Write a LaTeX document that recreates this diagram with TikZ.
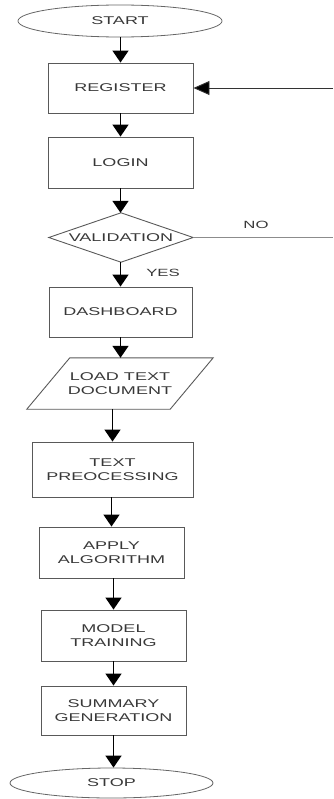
\documentclass[tikz,border=0pt]{standalone}
\usepackage{fontspec}
\setmainfont{Liberation Sans}
\newfontfamily\fcfont[FakeStretch=1.6]{Liberation Sans}
\usetikzlibrary{shapes.geometric,arrows.meta,calc}
\begin{document}
\begin{tikzpicture}[x=1bp,y=-1bp,
  every node/.style={font=\fcfont\fontsize{11.3}{13.5}\selectfont, text=black!78, align=center},
  boxnode/.style={draw=black!65, line width=0.9bp, rectangle, minimum width=145bp, minimum height=50bp, inner sep=0pt},
  termnode/.style={draw=black!60, line width=0.8bp, ellipse, minimum width=204bp, minimum height=32bp, inner sep=0pt},
  plain/.style={draw=none, rectangle, inner sep=0pt},
  outline/.style={draw=black!65, line width=0.9bp},
  flow/.style={draw=black, line width=1.6bp, -{Triangle[width=16bp,length=12bp]}},
  lbl/.style={font=\fcfont\fontsize{10.5}{12}\selectfont, text=black!78, inner sep=0pt}
]
\useasboundingbox (0,0) rectangle (333,799);

\node[termnode] (start) at (120,21) {START};
\node[boxnode] (reg) at (120.5,88) {REGISTER};
\node[boxnode, minimum height=51bp] (login) at (120.5,162.5) {LOGIN};
\node[plain, minimum width=144bp, minimum height=49bp] (val) at (121,237.5) {VALIDATION};
\draw[outline] (val.north) -- (val.east) -- (val.south) -- (val.west) -- cycle;
\node[boxnode, minimum width=143bp] (dash) at (120.5,312) {DASHBOARD};
\node[plain, minimum width=186bp, minimum height=51bp] (ld) at (120,383.5) {LOAD TEXT\\DOCUMENT};
\draw[outline] ($(ld.north west)+(43,0)$) -- (ld.north east) -- ($(ld.south east)+(-43,0)$) -- (ld.south west) -- cycle;
\node[boxnode, minimum width=161bp, minimum height=55bp] (tp) at (112.5,469.5) {TEXT\\PREOCESSING};
\node[boxnode, minimum height=51bp] (aa) at (111.5,552.5) {APPLY\\ALGORITHM};
\node[boxnode, minimum height=51bp] (mt) at (113.5,635.5) {MODEL\\TRAINING};
\node[boxnode, minimum height=49bp] (sg) at (113.5,710.5) {SUMMARY\\GENERATION};
\node[termnode, minimum width=203bp, minimum height=30bp] (stop) at (111.5,783) {STOP};

\coordinate (fbin) at (333,88);
\coordinate (noend) at (333,237.5);

\draw[flow] (start.south -| reg.north) -- (reg.north);
\draw[flow] (reg.south) -- (login.north);
\draw[flow] (login.south) -- (login.south |- val.north);
\draw[flow] (val.south -| dash.north) -- (dash.north);
\draw[flow] (dash.south) -- (dash.south |- ld.north);
\draw[flow] (tp.north |- ld.south) -- (tp.north);
\draw[flow] (tp.south -| aa.north) -- (aa.north);
\draw[flow] (aa.south -| mt.north) -- (mt.north);
\draw[flow] (mt.south) -- (sg.north);
\draw[flow] (sg.south) -- (sg.south |- stop.north);

\draw[draw=black!80, line width=0.9bp, -{Triangle[width=14bp,length=16bp,fill=black]}] (fbin) -- (reg.east);
\draw[draw=black!45, line width=1.2bp] (val.east) -- (noend);

\node[lbl] (no) at (256,225) {NO};
\node[lbl] (yes) at (163,273) {YES};
\end{tikzpicture}
\end{document}
